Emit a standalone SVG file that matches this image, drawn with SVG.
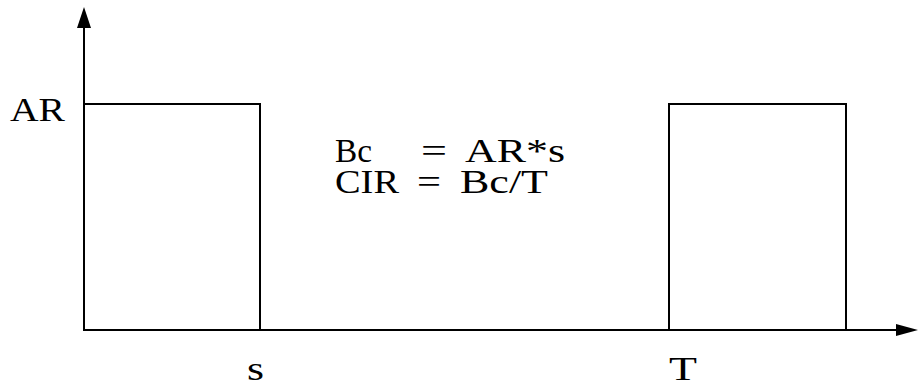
<svg xmlns="http://www.w3.org/2000/svg" width="918" height="386" viewBox="0 0 918 386">
<style>
.ln{fill:none;stroke:#000;stroke-width:2}
.t{font-family:"Liberation Serif","Times New Roman",serif;font-size:33px;fill:#000}
</style>
<rect width="918" height="386" fill="#fff"/>
<g id="axes">
<line class="ln" x1="84" y1="24" x2="84" y2="331"/>
<polygon points="84,7 77,28 91,28" fill="#000"/>
<line class="ln" x1="84" y1="330" x2="900" y2="330"/>
<polygon points="918,330 896,324 896,336" fill="#000"/>
</g>
<g id="pulse1">
<polyline class="ln" points="84,104 260,104 260,330"/>
</g>
<g id="pulse2">
<polyline class="ln" points="669,330 669,104 846,104 846,330"/>
</g>
<g id="labels">
<text class="t" x="10" y="121" textLength="55" lengthAdjust="spacingAndGlyphs">AR</text>
<text class="t" x="247" y="380" textLength="17" lengthAdjust="spacingAndGlyphs">s</text>
<text class="t" x="669" y="380" textLength="28" lengthAdjust="spacingAndGlyphs">T</text>
<text class="t" x="335" y="162" textLength="37" lengthAdjust="spacingAndGlyphs">Bc</text>
<text class="t" x="421" y="162" textLength="26" lengthAdjust="spacingAndGlyphs">=</text>
<text class="t" x="465" y="162" textLength="100" lengthAdjust="spacingAndGlyphs">AR*s</text>
<text class="t" x="335" y="193" textLength="64" lengthAdjust="spacingAndGlyphs">CIR</text>
<text class="t" x="417" y="193" textLength="24" lengthAdjust="spacingAndGlyphs">=</text>
<text class="t" x="460" y="193" textLength="88" lengthAdjust="spacingAndGlyphs">Bc/T</text>
</g>
</svg>
